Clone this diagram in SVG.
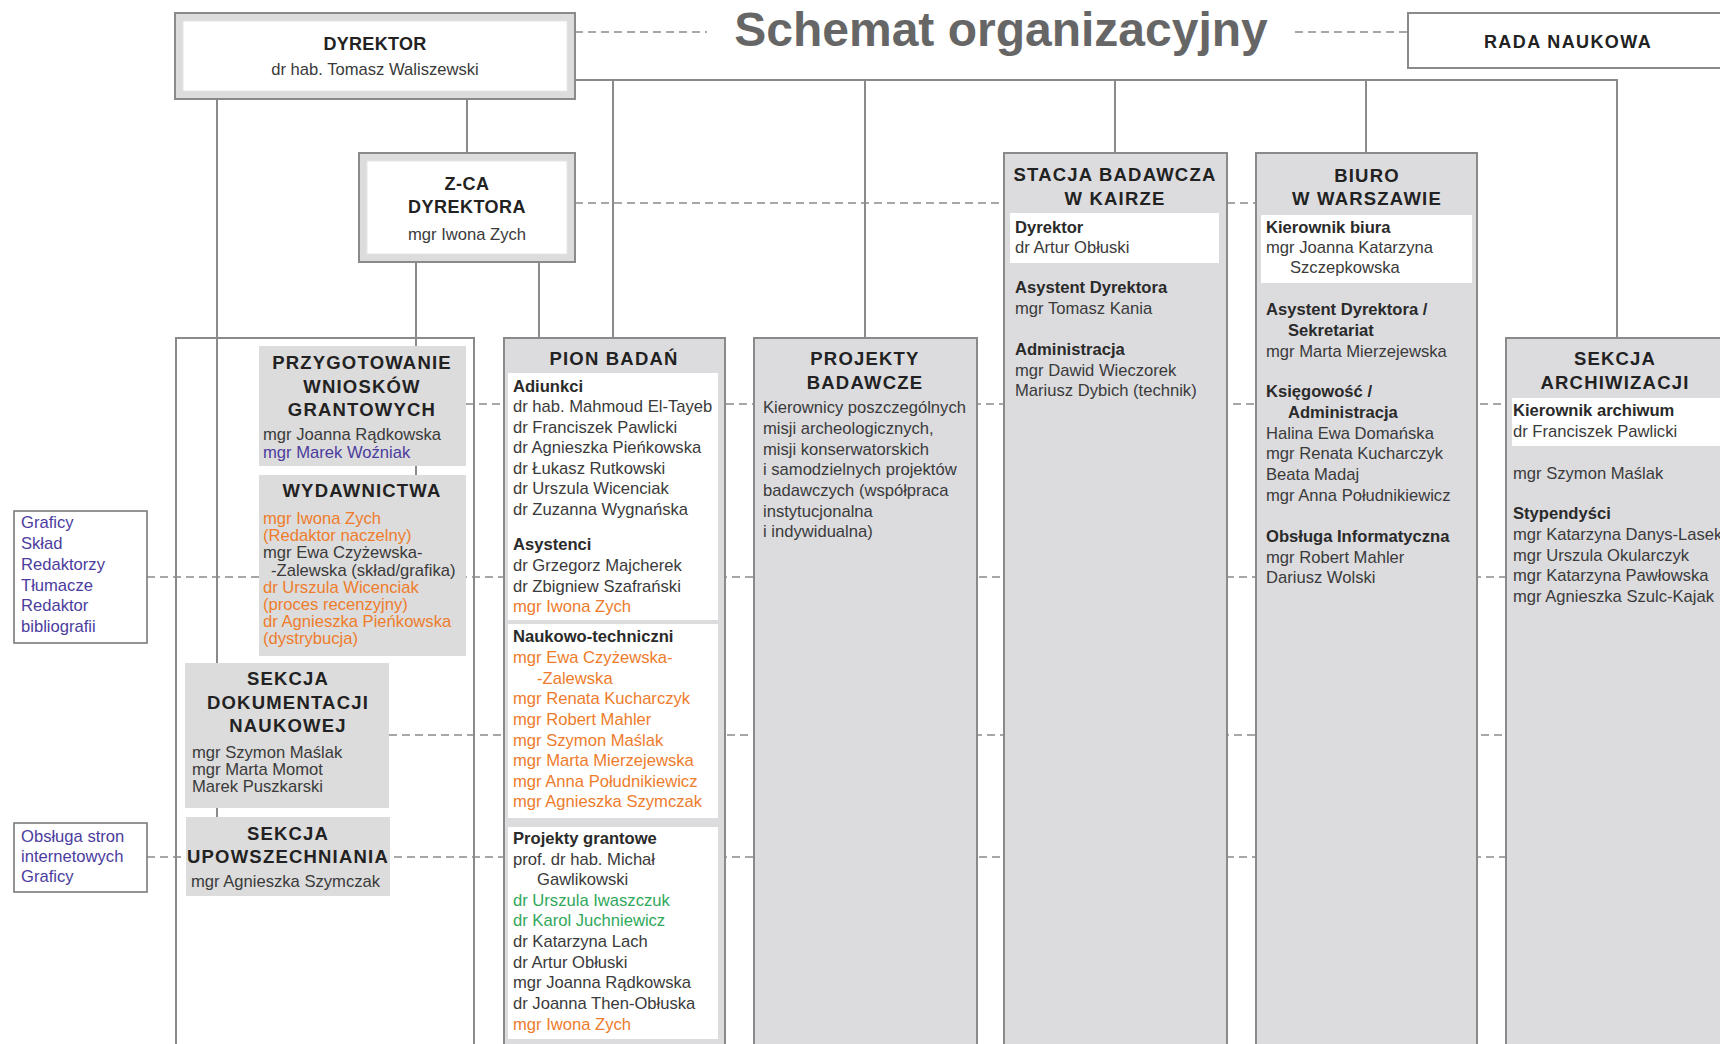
<svg xmlns="http://www.w3.org/2000/svg" width="1720" height="1044" viewBox="0 0 1720 1044">
<style>
text{font-family:"Liberation Sans",Arial,sans-serif}
.h{font-size:18.5px;font-weight:bold;fill:#222;letter-spacing:1.2px;text-anchor:middle}
.t{font-size:16.6px;fill:#3a3a3a}
.b{font-weight:bold;fill:#2a2a2a}
.o{fill:#ee7c2c}
.g{fill:#2fa85a}
.p{fill:#4b3c9e}
.col{fill:#dcdcdf;stroke:#8a8a8a;stroke-width:2}
.gb{fill:#dcdcdc}
.wb{fill:#ffffff}
.ln{stroke:#8a8a8a;stroke-width:2;fill:none}
.dl{stroke:#8a8a8a;stroke-width:1.6;fill:none;stroke-dasharray:8 5}
.side{fill:#ffffff;stroke:#7a7a7a;stroke-width:1.6}
</style>

<rect width="1720" height="1044" fill="#ffffff"/>

<text x="1001" y="46" text-anchor="middle" style="font-size:48px;font-weight:bold;fill:#666666">Schemat organizacyjny</text>

<g id="frame-left">
<rect x="176" y="338" width="298" height="730" fill="none" stroke="#8a8a8a" stroke-width="2"/>
</g>

<g id="connectors">
<path class="ln" d="M575 80H1617V338M613 80V338M865 80V338M1115 80V153M1366 80V153M467 99V153M217 99V817M416 262V475M539 262V338"/>
<path class="dl" d="M575 32H707M1295 32H1408M575 203H1004M1227 203H1256M466 404H1720M147 577H1720M389 735H1720M147 857H1720"/>
</g>

<g id="dyrektor">
<rect x="175" y="13" width="400" height="86" fill="#dcdcdc" stroke="#8a8a8a" stroke-width="2"/>
<rect x="183" y="21" width="384" height="70" fill="#ffffff" stroke="#e6e6e6" stroke-width="1"/>
<text x="375" y="50" class="h" style="font-size:18px;letter-spacing:0.3px">DYREKTOR</text>
<text x="375" y="75" class="t" text-anchor="middle">dr hab. Tomasz Waliszewski</text>
</g>

<g id="rada-naukowa">
<rect x="1408" y="13" width="330" height="55" fill="#ffffff" stroke="#8a8a8a" stroke-width="2"/>
<text x="1568" y="48" class="h" style="font-size:18px;letter-spacing:1.4px">RADA NAUKOWA</text>
</g>

<g id="zca-dyrektora">
<rect x="359" y="153" width="216" height="109" fill="#dcdcdc" stroke="#8a8a8a" stroke-width="2"/>
<rect x="367" y="161" width="200" height="93" fill="#ffffff" stroke="#e6e6e6" stroke-width="1"/>
<text x="467" y="190" class="h" style="font-size:18px;letter-spacing:0.5px">Z-CA</text>
<text x="467" y="213" class="h" style="font-size:18px;letter-spacing:0.5px">DYREKTORA</text>
<text x="467" y="240" class="t" text-anchor="middle">mgr Iwona Zych</text>
</g>

<g id="przygotowanie">
<rect x="259" y="346" width="207" height="120" class="gb"/>
<text x="362" y="369" class="h">PRZYGOTOWANIE</text>
<text x="362" y="393" class="h">WNIOSKÓW</text>
<text x="362" y="416" class="h">GRANTOWYCH</text>
<text x="263" y="440" class="t">mgr Joanna Rądkowska</text>
<text x="263" y="458" class="t p">mgr Marek Woźniak</text>
</g>

<g id="wydawnictwa">
<rect x="259" y="475" width="207" height="181" class="gb"/>
<text x="362" y="497" class="h">WYDAWNICTWA</text>
<text x="263" y="524" class="t o">mgr Iwona Zych</text>
<text x="263" y="541" class="t o">(Redaktor naczelny)</text>
<text x="263" y="558" class="t">mgr Ewa Czyżewska-</text>
<text x="271" y="575.5" class="t">-Zalewska (skład/grafika)</text>
<text x="263" y="592.5" class="t o">dr Urszula Wicenciak</text>
<text x="263" y="609.5" class="t o">(proces recenzyjny)</text>
<text x="263" y="626.5" class="t o">dr Agnieszka Pieńkowska</text>
<text x="263" y="643.5" class="t o">(dystrybucja)</text>
</g>

<g id="sekcja-dokumentacji">
<rect x="185" y="663" width="204" height="145" class="gb"/>
<text x="288" y="685" class="h">SEKCJA</text>
<text x="288" y="709" class="h">DOKUMENTACJI</text>
<text x="288" y="732" class="h">NAUKOWEJ</text>
<text x="192" y="758" class="t">mgr Szymon Maślak</text>
<text x="192" y="775" class="t">mgr Marta Momot</text>
<text x="192" y="792" class="t">Marek Puszkarski</text>
</g>

<g id="sekcja-upowszechniania">
<rect x="186" y="817" width="204" height="79" class="gb"/>
<text x="288" y="840" class="h">SEKCJA</text>
<text x="288" y="863" class="h">UPOWSZECHNIANIA</text>
<text x="191" y="887" class="t">mgr Agnieszka Szymczak</text>
</g>

<g id="zespol-wydawniczy">
<rect x="14" y="511" width="133" height="132" class="side"/>
<text x="21" y="528" class="t p">Graficy</text>
<text x="21" y="549" class="t p">Skład</text>
<text x="21" y="570" class="t p">Redaktorzy</text>
<text x="21" y="591" class="t p">Tłumacze</text>
<text x="21" y="611" class="t p">Redaktor</text>
<text x="21" y="632" class="t p">bibliografii</text>
</g>

<g id="zespol-www">
<rect x="14" y="823" width="133" height="69" class="side"/>
<text x="21" y="842" class="t p">Obsługa stron</text>
<text x="21" y="862" class="t p">internetowych</text>
<text x="21" y="882" class="t p">Graficy</text>
</g>

<g id="pion-badan">
<rect x="504" y="338" width="221" height="730" class="col"/>
<text x="614" y="365" class="h">PION BADAŃ</text>
<rect x="508" y="373" width="210" height="247" class="wb"/>
<text x="513" y="392" class="t b">Adiunkci</text>
<text x="513" y="412" class="t">dr hab. Mahmoud El-Tayeb</text>
<text x="513" y="432.5" class="t">dr Franciszek Pawlicki</text>
<text x="513" y="453" class="t">dr Agnieszka Pieńkowska</text>
<text x="513" y="473.5" class="t">dr Łukasz Rutkowski</text>
<text x="513" y="494" class="t">dr Urszula Wicenciak</text>
<text x="513" y="515" class="t">dr Zuzanna Wygnańska</text>
<text x="513" y="550" class="t b">Asystenci</text>
<text x="513" y="571" class="t">dr Grzegorz Majcherek</text>
<text x="513" y="591.5" class="t">dr Zbigniew Szafrański</text>
<text x="513" y="612" class="t o">mgr Iwona Zych</text>
<rect x="508" y="624" width="210" height="194" class="wb"/>
<text x="513" y="642" class="t b">Naukowo-techniczni</text>
<text x="513" y="663" class="t o">mgr Ewa Czyżewska-</text>
<text x="537" y="683.5" class="t o">-Zalewska</text>
<text x="513" y="704" class="t o">mgr Renata Kucharczyk</text>
<text x="513" y="725" class="t o">mgr Robert Mahler</text>
<text x="513" y="745.5" class="t o">mgr Szymon Maślak</text>
<text x="513" y="766" class="t o">mgr Marta Mierzejewska</text>
<text x="513" y="786.5" class="t o">mgr Anna Południkiewicz</text>
<text x="513" y="807" class="t o">mgr Agnieszka Szymczak</text>
<rect x="508" y="827" width="210" height="212" class="wb"/>
<text x="513" y="844" class="t b">Projekty grantowe</text>
<text x="513" y="864.5" class="t">prof. dr hab. Michał</text>
<text x="537" y="885" class="t">Gawlikowski</text>
<text x="513" y="905.5" class="t g">dr Urszula Iwaszczuk</text>
<text x="513" y="926" class="t g">dr Karol Juchniewicz</text>
<text x="513" y="947" class="t">dr Katarzyna Lach</text>
<text x="513" y="967.5" class="t">dr Artur Obłuski</text>
<text x="513" y="988" class="t">mgr Joanna Rądkowska</text>
<text x="513" y="1008.5" class="t">dr Joanna Then-Obłuska</text>
<text x="513" y="1029.5" class="t o">mgr Iwona Zych</text>
</g>

<g id="projekty-badawcze">
<rect x="754" y="338" width="223" height="730" class="col"/>
<text x="865" y="365" class="h">PROJEKTY</text>
<text x="865" y="389" class="h">BADAWCZE</text>
<text x="763" y="413" class="t">Kierownicy poszczególnych</text>
<text x="763" y="434" class="t">misji archeologicznych,</text>
<text x="763" y="454.5" class="t">misji konserwatorskich</text>
<text x="763" y="475" class="t">i samodzielnych projektów</text>
<text x="763" y="496" class="t">badawczych (współpraca</text>
<text x="763" y="517" class="t">instytucjonalna</text>
<text x="763" y="537" class="t">i indywidualna)</text>
</g>

<g id="stacja-kair">
<rect x="1004" y="153" width="223" height="915" class="col"/>
<text x="1115" y="181" class="h">STACJA BADAWCZA</text>
<text x="1115" y="205" class="h">W KAIRZE</text>
<rect x="1010" y="213" width="209" height="50" class="wb"/>
<text x="1015" y="233" class="t b">Dyrektor</text>
<text x="1015" y="253" class="t">dr Artur Obłuski</text>
<text x="1015" y="293" class="t b">Asystent Dyrektora</text>
<text x="1015" y="313.5" class="t">mgr Tomasz Kania</text>
<text x="1015" y="355" class="t b">Administracja</text>
<text x="1015" y="375.5" class="t">mgr Dawid Wieczorek</text>
<text x="1015" y="396" class="t">Mariusz Dybich (technik)</text>
</g>

<g id="biuro-warszawa">
<rect x="1256" y="153" width="221" height="915" class="col"/>
<text x="1367" y="182" class="h">BIURO</text>
<text x="1367" y="205" class="h">W WARSZAWIE</text>
<rect x="1261" y="215" width="211" height="68" class="wb"/>
<text x="1266" y="233" class="t b">Kierownik biura</text>
<text x="1266" y="253" class="t">mgr Joanna Katarzyna</text>
<text x="1290" y="273" class="t">Szczepkowska</text>
<text x="1266" y="315" class="t b">Asystent Dyrektora /</text>
<text x="1288" y="335.5" class="t b">Sekretariat</text>
<text x="1266" y="356.5" class="t">mgr Marta Mierzejewska</text>
<text x="1266" y="397" class="t b">Księgowość /</text>
<text x="1288" y="417.5" class="t b">Administracja</text>
<text x="1266" y="438.5" class="t">Halina Ewa Domańska</text>
<text x="1266" y="459" class="t">mgr Renata Kucharczyk</text>
<text x="1266" y="480" class="t">Beata Madaj</text>
<text x="1266" y="500.5" class="t">mgr Anna Południkiewicz</text>
<text x="1266" y="542" class="t b">Obsługa Informatyczna</text>
<text x="1266" y="562.5" class="t">mgr Robert Mahler</text>
<text x="1266" y="583" class="t">Dariusz Wolski</text>
</g>

<g id="sekcja-archiwizacji">
<rect x="1506" y="338" width="222" height="730" class="col"/>
<text x="1615" y="365" class="h">SEKCJA</text>
<text x="1615" y="389" class="h">ARCHIWIZACJI</text>
<rect x="1512" y="398" width="220" height="48" class="wb"/>
<text x="1513" y="416" class="t b">Kierownik archiwum</text>
<text x="1513" y="437" class="t">dr Franciszek Pawlicki</text>
<text x="1513" y="479" class="t">mgr Szymon Maślak</text>
<text x="1513" y="519" class="t b">Stypendyści</text>
<text x="1513" y="540" class="t">mgr Katarzyna Danys-Lasek</text>
<text x="1513" y="561" class="t">mgr Urszula Okularczyk</text>
<text x="1513" y="581" class="t">mgr Katarzyna Pawłowska</text>
<text x="1513" y="602" class="t">mgr Agnieszka Szulc-Kajak</text>
</g>
</svg>
